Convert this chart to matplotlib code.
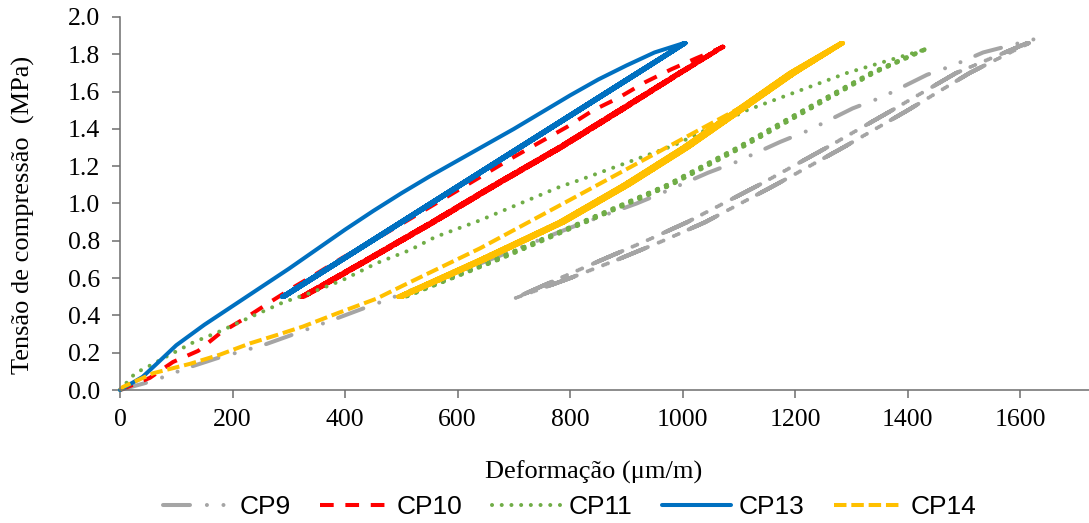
import matplotlib
matplotlib.use('Agg')
import matplotlib.pyplot as plt
import numpy as np

# Colour palette (one per specimen)
GRAY = '#A5A5A5'
RED = '#FF0000'
GREEN = '#70AD47'
BLUE = '#0070C0'
YELLOW = '#FFC000'
AXIS = '#6E6E6E'

SERIF = 'Liberation Serif'
SANS = 'Liberation Sans'

# ---------------------------------------------------------------------------
# Data: first loading curve + repeated load/unload cycles (strain in um/m,
# stress in MPa). Cycle branches share the stress levels in *_loop_y.
# ---------------------------------------------------------------------------

# CP9
cp9_load_x = [0, 60, 119, 172, 254, 305, 387, 439, 462, 600, 700, 800, 918, 963,
              1045, 1093, 1173, 1222, 1302, 1354, 1434, 1480, 1534, 1630]
cp9_load_y = [0, 0.05, 0.118, 0.17, 0.24, 0.295, 0.386, 0.445, 0.47, 0.63, 0.75, 0.87, 1.0, 1.056,
              1.165, 1.22, 1.33, 1.39, 1.51, 1.57, 1.69, 1.74, 1.81, 1.885]
cp9_loop_y = [0.49, 0.6, 0.7, 0.8, 0.9, 1.1, 1.3, 1.5, 1.7, 1.86]
cp9_up_x = [700, 800, 885, 965, 1040, 1165, 1285, 1400, 1510, 1615]
cp9_down_x = [700, 782, 858, 935, 1008, 1136, 1256, 1372, 1486, 1612]

# CP10
cp10_load_x = [0, 53, 94, 139, 178, 225, 266, 308, 350, 396, 444, 500, 600, 700,
               794, 841, 885, 933, 980, 1025, 1072]
cp10_load_y = [0, 0.065, 0.15, 0.21, 0.305, 0.39, 0.47, 0.55, 0.625, 0.71, 0.79, 0.89, 1.07, 1.25,
               1.41, 1.50, 1.565, 1.65, 1.72, 1.78, 1.84]
cp10_loop_y = [0.5, 0.7, 0.9, 1.1, 1.3, 1.5, 1.7, 1.84]
cp10_up_x = [327, 444, 559, 670, 785, 892, 997, 1072]
cp10_down_x = [322, 438, 553, 664, 779, 886, 993, 1070]

# CP11
cp11_load_x = [0, 27, 56, 83, 130, 178, 231, 290, 338, 396, 456, 515, 560, 640,
               782, 817, 983, 1114, 1292, 1380, 1435]
cp11_load_y = [0, 0.09, 0.135, 0.18, 0.255, 0.315, 0.39, 0.47, 0.52, 0.59, 0.68, 0.75, 0.82, 0.91,
               1.09, 1.126, 1.31, 1.50, 1.70, 1.78, 1.83]
cp11_loop_y = [0.5, 0.7, 0.9, 1.1, 1.3, 1.5, 1.7, 1.83]
cp11_up_x = [508, 674, 828, 980, 1105, 1222, 1340, 1435]
cp11_down_x = [502, 666, 820, 972, 1097, 1214, 1334, 1432]

# CP13
cp13_load_x = [0, 40, 65, 100, 150, 200, 250, 300, 350, 400, 450, 500, 550, 600,
               650, 700, 750, 800, 850, 900, 950, 1002]
cp13_load_y = [0, 0.07, 0.14, 0.24, 0.35, 0.45, 0.55, 0.65, 0.755, 0.86, 0.96, 1.055, 1.145, 1.23,
               1.315, 1.40, 1.49, 1.58, 1.665, 1.74, 1.81, 1.86]
cp13_loop_y = [0.5, 0.7, 0.9, 1.1, 1.3, 1.5, 1.7, 1.86]
cp13_up_x = [292, 397, 502, 607, 712, 817, 922, 1005]
cp13_down_x = [288, 393, 498, 603, 708, 813, 918, 1003]

# CP14
cp14_load_x = [0, 5, 59, 124, 178, 231, 279, 325, 385, 456, 503, 640, 800, 965, 1100, 1200, 1285]
cp14_load_y = [0, 0.016, 0.09, 0.14, 0.19, 0.25, 0.295, 0.34, 0.41, 0.49, 0.56, 0.76, 1.02, 1.29,
               1.51, 1.70, 1.86]
cp14_loop_y = [0.5, 0.7, 0.9, 1.1, 1.3, 1.5, 1.7, 1.86]
cp14_up_x = [502, 650, 790, 905, 1010, 1105, 1200, 1285]
cp14_down_x = [494, 640, 780, 895, 1000, 1095, 1190, 1281]


def build_path(load_x, load_y, loop_y, up_x, down_x, n):
    """First loading, then n unload/reload cycles."""
    xs = list(load_x)
    ys = list(load_y)
    for _ in range(n):
        xs += down_x[::-1] + up_x
        ys += loop_y[::-1] + loop_y
    return np.array(xs), np.array(ys)


# name, data, number of cycles drawn, line style
series = [
    ('CP9', cp9_load_x, cp9_load_y, cp9_loop_y, cp9_up_x, cp9_down_x, 3,
     dict(color=GRAY, dashes=(6.7, 4.2, 0.01, 4.1, 0.01, 4.0), dash_capstyle='round')),
    ('CP10', cp10_load_x, cp10_load_y, cp10_loop_y, cp10_up_x, cp10_down_x, 5,
     dict(color=RED, dashes=(3.4, 2.9), dash_capstyle='butt')),
    ('CP11', cp11_load_x, cp11_load_y, cp11_loop_y, cp11_up_x, cp11_down_x, 2,
     dict(color=GREEN, dashes=(0.01, 2.4), dash_capstyle='round')),
    ('CP13', cp13_load_x, cp13_load_y, cp13_loop_y, cp13_up_x, cp13_down_x, 5,
     dict(color=BLUE, linestyle='-', solid_capstyle='round')),
    ('CP14', cp14_load_x, cp14_load_y, cp14_loop_y, cp14_up_x, cp14_down_x, 3,
     dict(color=YELLOW, dashes=(3.1, 1.2), dash_capstyle='butt')),
]

fig = plt.figure(figsize=(10.89, 5.23), dpi=100)
ax = fig.add_axes([0.1102, 0.2543, 0.8898, 0.7132])

for name, lx, ly, cy, ux, dx, n, style in series:
    x, y = build_path(lx, ly, cy, ux, dx, n)
    ax.plot(x, y, lw=2.9, label=name, clip_on=False, **style)

ax.set_xlim(0, 1722)
ax.set_ylim(0, 2.0)
ax.set_xticks(np.arange(0, 1601, 200))
ax.set_yticks(np.arange(0, 2.01, 0.2))
ax.set_yticklabels([f'{v:.1f}' for v in np.arange(0, 2.01, 0.2)])

for side in ('top', 'right'):
    ax.spines[side].set_visible(False)
for side in ('left', 'bottom'):
    ax.spines[side].set_color(AXIS)
    ax.spines[side].set_linewidth(1.1)

ax.tick_params(axis='both', direction='out', colors=AXIS, length=6, width=1.1,
               labelcolor='black', labelsize=18.5)
ax.tick_params(axis='x', pad=8)
ax.tick_params(axis='y', pad=8.5)
for lab in ax.get_xticklabels() + ax.get_yticklabels():
    lab.set_fontfamily(SERIF)

ax.set_xlabel('Deformação (μm/m)', fontsize=19, fontfamily=SERIF)
ax.set_ylabel('Tensão de compressão  (MPa)', fontsize=19, fontfamily=SERIF)
ax.xaxis.set_label_coords(0.4886, -0.188)
ax.yaxis.set_label_coords(-0.0877, 0.468)

fig.legend(loc='center', bbox_to_anchor=(0.523, 0.03), ncol=5, frameon=False,
           prop={'family': SANS, 'size': 19}, handlelength=2.62, handletextpad=0.3,
           columnspacing=1.1, borderaxespad=0)

fig.savefig('out.png', dpi=100)
